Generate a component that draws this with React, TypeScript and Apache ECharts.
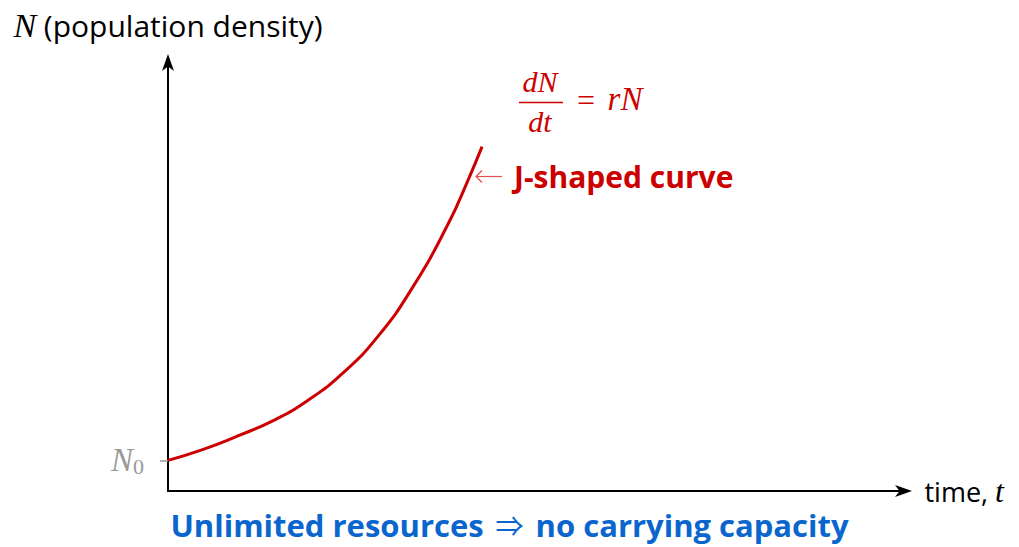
import React, { useEffect, useRef } from "react";
import * as echarts from "echarts";

// Data (time in arbitrary units, N in multiples of N0)
const timeValues = [0, 0.48, 0.95, 1.43, 1.9, 2.38, 2.86, 3.33, 3.81, 4.08, 4.27];
const densityValues = [1.0, 1.36, 1.8, 2.3, 2.96, 3.86, 5.07, 6.67, 8.73, 10.16, 11.25];
const yTickValues = [1];
const yTickLabels = ["{n|N}{s|0}"];
const xAxisName = "time, {i|t}";
const yAxisName = "{i|N} (population density)";
const curveLabel = "J-shaped curve";
const bottomText = "{b|Unlimited resources}{a|⇒}{b|no carrying capacity}";

const ARROW = "path://M6 0 L12 17 L6 12.5 L0 17 Z";
const SANS = "'Open Sans', 'Noto Sans', sans-serif";
const SERIF = "'Liberation Serif', 'DejaVu Serif', serif";
const RED = "#cc0000";
const BLUE = "#0a66cc";

export default function App() {
  const ref = useRef<HTMLDivElement>(null);
  useEffect(() => {
    if (!ref.current) return;
    const chart = echarts.init(ref.current, null, { renderer: "svg" });
    const data = timeValues.map((t, i) => [t, densityValues[i]]);
    chart.setOption({
      animation: false,
      backgroundColor: "#ffffff",
      grid: { left: 168, right: 1019 - 903.5, top: 62.5, bottom: 547 - 491 },
      title: {
        text: bottomText,
        left: "center",
        top: 509,
        padding: 0,
        textStyle: {
          rich: {
            b: { fontFamily: SANS, fontWeight: "bold", fontSize: 31, color: BLUE, lineHeight: 31 },
            a: { fontFamily: "'Noto Sans CJK JP', 'DejaVu Serif', serif", fontWeight: "normal", fontSize: 28, color: BLUE, lineHeight: 31, padding: [0, 12, 0, 12] },
          },
        },
      },
      xAxis: {
        type: "value",
        min: 0,
        max: 10,
        name: xAxisName,
        nameLocation: "end",
        nameGap: 21,
        nameTextStyle: {
          fontFamily: SANS,
          fontSize: 27,
          color: "#000",
          rich: {
            i: { fontFamily: SERIF, fontStyle: "italic", fontSize: 32, color: "#000" },
          },
        },
        axisLine: {
          show: true,
          symbol: ["none", ARROW],
          symbolSize: [12, 17],
          lineStyle: { color: "#000", width: 2 },
        },
        axisTick: { show: false },
        axisLabel: { show: false },
        splitLine: { show: false },
      },
      yAxis: {
        type: "value",
        min: 0,
        max: 14,
        name: yAxisName,
        nameLocation: "end",
        nameGap: 20,
        nameTextStyle: {
          fontFamily: SANS,
          fontSize: 30,
          color: "#000",
          rich: {
            i: { fontFamily: SERIF, fontStyle: "italic", fontSize: 34, color: "#000" },
          },
        },
        axisLine: {
          show: true,
          symbol: ["none", ARROW],
          symbolSize: [12, 17],
          lineStyle: { color: "#000", width: 2 },
        },
        axisTick: {
          show: true,
          customValues: yTickValues,
          length: 8,
          lineStyle: { color: "#999", width: 1.5 },
        },
        axisLabel: {
          show: true,
          customValues: yTickValues,
          margin: 24,
          formatter: (v: number) => yTickLabels[yTickValues.indexOf(v)] ?? "",
          rich: {
            n: { fontFamily: SERIF, fontStyle: "italic", fontSize: 33, color: "#999", lineHeight: 34 },
            s: { fontFamily: SERIF, fontSize: 22, color: "#999", lineHeight: 20, verticalAlign: "bottom" },
          },
        },
        splitLine: { show: false },
      },
      graphic: [
        { type: "text", x: 540, y: 81, style: { text: "dN", font: `italic 30px ${SERIF}`, fill: RED, align: "center", verticalAlign: "middle" } },
        { type: "line", shape: { x1: 519, y1: 102.5, x2: 563, y2: 102.5 }, style: { stroke: RED, lineWidth: 1.4 } },
        { type: "text", x: 540, y: 121, style: { text: "dt", font: `italic 30px ${SERIF}`, fill: RED, align: "center", verticalAlign: "middle" } },
        { type: "text", x: 586, y: 100, style: { text: "=", font: `32px ${SERIF}`, fill: RED, align: "center", verticalAlign: "middle" } },
        { type: "text", x: 625, y: 99, style: { text: "rN", font: `italic 33px ${SERIF}`, fill: RED, align: "center", verticalAlign: "middle" } },
        { type: "line", shape: { x1: 476, y1: 176.5, x2: 502, y2: 176.5 }, style: { stroke: "#e05050", lineWidth: 1.2 } },
        { type: "polyline", shape: { points: [[482, 170.5], [476, 176.5], [482, 182.5]] }, style: { stroke: "#e05050", lineWidth: 1.2, fill: "none" } },
        { type: "text", x: 514, y: 176, style: { text: curveLabel, font: `bold 30px ${SANS}`, fill: RED, align: "left", verticalAlign: "middle" } },
      ],
      series: [
        {
          type: "line",
          data,
          smooth: 0.5,
          showSymbol: false,
          clip: false,
          lineStyle: { color: RED, width: 3 },
        },
      ],
    });
    return () => chart.dispose();
  }, []);
  return <div ref={ref} style={{ position: "fixed", left: 0, top: 0, width: 1019, height: 547 }} />;
}
